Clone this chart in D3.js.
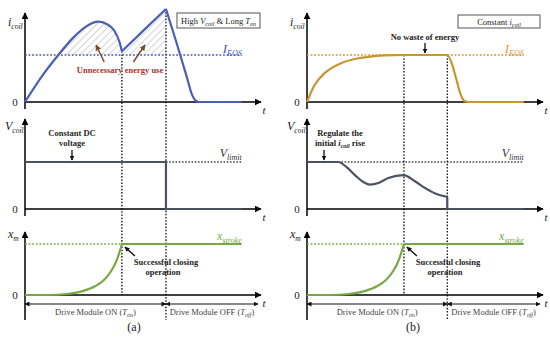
<!DOCTYPE html>
<html>
<head>
<meta charset="utf-8">
<script src="https://cdn.jsdelivr.net/npm/d3@7"></script>
<style>
body { margin: 0; background: #fff; }
svg { display: block; }
svg text { font-family: "Liberation Serif", "DejaVu Serif", serif; }
</style>
</head>
<body>
<div id="container"></div>
<script>
// time in % of panel width, values normalised to I_EOS / V_limit / x_stroke
const tClose = 41.6, tOff = 60.5, tEnd = 93;

// (a) high V_coil & long T_on
const iCoilA1 = [[0,0],[7,0.53],[14.3,1.0],[20.7,1.37],[26,1.6],[31.4,1.71],[35,1.66],[38.3,1.52],[40.6,1.27],[41.6,1.08]];
const iCoilA2 = [[41.6,1.08],[51,1.53],[60.5,1.98]];
const iCoilA3 = [[60.5,1.98],[65.1,1.25],[69.4,0.54],[71.5,0.18],[73.3,0.03],[75,0],[93,0]];
const vCoilA = [[0,1],[60.5,1],[60.5,0],[93,0]];
const xmA = [[0,0],[10,0],[17.9,0.02],[25,0.08],[30,0.17],[34,0.3],[37,0.47],[39.5,0.7],[41.6,1]];

// (b) constant i_coil
const iCoilB = [[0,0],[3,0.34],[7.7,0.62],[14.8,0.83],[20,0.91],[26.3,0.96],[33,0.99],[41.6,1],[60.2,1],[62,0.84],[64,0.5],[66,0.15],[67.6,0.02],[69,0],[93,0]];
const vCoilB = [[0,1],[13.4,1],[17,0.89],[20.6,0.72],[24,0.58],[27,0.52],[31,0.56],[34.9,0.66],[41.5,0.72],[46,0.6],[50.9,0.44],[55,0.33],[60.2,0.26]];
const vCoilBOff = [[60.2,0.26],[60.2,0],[93,0]];
const xmB = xmA;

const W = 550, H = 339;
const svg = d3.select("#container").append("svg").attr("width", W).attr("height", H)
	.attr("font-family", "'Liberation Serif', 'DejaVu Serif', serif");
const defs = svg.append("defs");

function marker(id, color, size) {
	defs.append("marker")
		.attr("id", id)
		.attr("viewBox", "0 0 10 10")
		.attr("refX", 9).attr("refY", 5)
		.attr("markerWidth", size).attr("markerHeight", size)
		.attr("markerUnits", "userSpaceOnUse")
		.attr("orient", "auto-start-reverse")
		.append("path").attr("d", "M0,0L10,5L0,10z").attr("fill", color);
}
marker("ax", "#000", 7);
marker("arr", "#111", 5);
marker("arrBrown", "#7b4b2a", 6);

defs.append("pattern")
	.attr("id", "hatch")
	.attr("patternUnits", "userSpaceOnUse")
	.attr("width", 5).attr("height", 5)
	.attr("patternTransform", "rotate(45)")
	.append("line").attr("x1", 0).attr("y1", 0).attr("x2", 0).attr("y2", 5)
	.attr("stroke", "#a3a3a3").attr("stroke-width", 0.9);

const yI = d3.scaleLinear().domain([0, 1]).range([102, 55]);
const yV = d3.scaleLinear().domain([0, 1]).range([209, 162]);
const yX = d3.scaleLinear().domain([0, 1]).range([295, 244]);
const yTop = { i: 13, v: 119, x: 232 };

function sub(g, x, y, main, subTxt, opts) {
	opts = opts || {};
	const t = g.append("text").attr("x", x).attr("y", y)
		.attr("font-style", "italic").attr("font-size", opts.size || 12)
		.attr("fill", opts.color || "#222")
		.attr("text-anchor", opts.anchor || "start");
	t.append("tspan").text(main);
	t.append("tspan").attr("dy", 3).attr("font-size", opts.subSize || 7.5).text(subTxt);
	return t;
}

function panel(x0, cfg) {
	const g = svg.append("g");
	const xs = d3.scaleLinear().domain([0, 100]).range([x0, x0 + 233]);
	const xAxisEnd = x0 + 236;
	const mono = d3.line().x(d => xs(d[0])).curve(d3.curveMonotoneX);
	const lin = d3.line().x(d => xs(d[0])).curve(d3.curveLinear);

	// hatch
	if (cfg.hatch) {
		g.append("clipPath").attr("id", "clipAbove")
			.append("rect").attr("x", x0).attr("y", 0).attr("width", 240).attr("height", yI(1));
		const area = d3.area().x(d => xs(d[0])).y0(yI(1)).y1(d => yI(d[1])).curve(d3.curveMonotoneX);
		cfg.hatch.forEach(seg => {
			g.append("path").attr("d", area(seg)).attr("fill", "url(#hatch)")
				.attr("clip-path", "url(#clipAbove)");
		});
	}

	// vertical marker lines
	g.append("line").attr("x1", xs(tClose)).attr("x2", xs(tClose))
		.attr("y1", cfg.closeTop).attr("y2", yX(0))
		.attr("stroke", "#111").attr("stroke-width", 1.3).attr("stroke-dasharray", "1.6,1.6");
	g.append("line").attr("x1", xs(cfg.tOff)).attr("x2", xs(cfg.tOff))
		.attr("y1", cfg.offTop).attr("y2", 320)
		.attr("stroke", "#111").attr("stroke-width", 1.3).attr("stroke-dasharray", "1.6,1.6");

	// axes
	[["i", yI], ["v", yV], ["x", yX]].forEach(([k, ys]) => {
		const bottom = k === "x" ? 320 : ys(0) + 7;
		g.append("line").attr("x1", x0).attr("x2", x0).attr("y1", bottom).attr("y2", yTop[k])
			.attr("stroke", "#000").attr("stroke-width", 1.5).attr("marker-end", "url(#ax)");
		g.append("line").attr("x1", x0).attr("x2", xAxisEnd).attr("y1", ys(0)).attr("y2", ys(0))
			.attr("stroke", "#000").attr("stroke-width", 1.5).attr("marker-end", "url(#ax)");
		g.append("text").attr("x", x0 - 10).attr("y", ys(0) + 4).attr("text-anchor", "middle")
			.attr("font-size", 11).attr("fill", "#222").text("0");
		g.append("text").attr("x", xAxisEnd + 3).attr("y", ys(0) + 12).attr("text-anchor", "middle")
			.attr("font-size", 11).attr("font-style", "italic").attr("fill", "#222").text("t");
	});

	// reference levels
	g.append("line").attr("x1", x0).attr("x2", xs(tEnd)).attr("y1", yI(1)).attr("y2", yI(1))
		.attr("stroke", cfg.eosColor).attr("stroke-width", 1.6).attr("stroke-dasharray", "1.8,1.8");
	g.append("line").attr("x1", xs(cfg.vDotStart)).attr("x2", xs(tEnd)).attr("y1", yV(1)).attr("y2", yV(1))
		.attr("stroke", "#444").attr("stroke-width", 1.3).attr("stroke-dasharray", "1.6,1.6");
	g.append("line").attr("x1", x0).attr("x2", xs(tClose)).attr("y1", yX(1)).attr("y2", yX(1))
		.attr("stroke", "#78a745").attr("stroke-width", 1.6).attr("stroke-dasharray", "1.8,1.8");

	// curves
	cfg.iMono.forEach(seg => g.append("path").attr("d", mono.y(d => yI(d[1]))(seg))
		.attr("fill", "none").attr("stroke", cfg.iColor).attr("stroke-width", 2.2));
	(cfg.iLin || []).forEach(seg => g.append("path").attr("d", lin.y(d => yI(d[1]))(seg))
		.attr("fill", "none").attr("stroke", cfg.iColor).attr("stroke-width", 2.2));
	(cfg.vMono || []).forEach(seg => g.append("path").attr("d", mono.y(d => yV(d[1]))(seg))
		.attr("fill", "none").attr("stroke", "#4b5263").attr("stroke-width", 2.2));
	cfg.vLin.forEach(seg => g.append("path").attr("d", lin.y(d => yV(d[1]))(seg))
		.attr("fill", "none").attr("stroke", "#4b5263").attr("stroke-width", 2.2));
	g.append("path").attr("d", mono.y(d => yX(d[1]))(cfg.xm))
		.attr("fill", "none").attr("stroke", "#78a745").attr("stroke-width", 2.2);
	g.append("path").attr("d", lin.y(d => yX(d[1]))([[tClose, 1], [tEnd, 1]]))
		.attr("fill", "none").attr("stroke", "#78a745").attr("stroke-width", 2.2);

	// axis titles
	sub(g, x0 - 17, 26, "i", "coil");
	sub(g, x0 - 20, 130, "V", "coil");
	sub(g, x0 - 17, 238, "x", "m");
	sub(g, xs(tEnd), 53, "I", "EOS", { color: cfg.eosLabel, anchor: "end", size: 13, subSize: 8 });
	sub(g, xs(tEnd), 157, "V", "limit", { color: "#333", anchor: "end", size: 12, subSize: 8 });
	sub(g, xs(tEnd), 240, "x", "stroke", { color: "#78a745", anchor: "end", size: 12, subSize: 8 });

	// successful closing
	g.append("line").attr("x1", xs(tClose) + 13).attr("y1", 256).attr("x2", xs(tClose) + 3).attr("y2", 247)
		.attr("stroke", "#111").attr("stroke-width", 1.4).attr("marker-end", "url(#arr)");
	g.append("text").attr("x", xs(tClose) + 44).attr("y", 265).attr("text-anchor", "middle")
		.attr("font-size", 8.5).attr("font-weight", "bold").attr("fill", "#222").text("Successful closing");
	g.append("text").attr("x", xs(tClose) + 41).attr("y", 275).attr("text-anchor", "middle")
		.attr("font-size", 8.5).attr("font-weight", "bold").attr("fill", "#222").text("operation");

	// drive module span
	const yb = 304;
	g.append("line").attr("x1", x0).attr("x2", xs(cfg.tOff)).attr("y1", yb).attr("y2", yb)
		.attr("stroke", "#111").attr("stroke-width", 1.2)
		.attr("marker-start", "url(#arr)").attr("marker-end", "url(#arr)");
	g.append("line").attr("x1", xs(cfg.tOff)).attr("x2", xs(100)).attr("y1", yb).attr("y2", yb)
		.attr("stroke", "#111").attr("stroke-width", 1.2)
		.attr("marker-start", "url(#arr)").attr("marker-end", "url(#arr)");
	const on = g.append("text").attr("x", (x0 + xs(cfg.tOff)) / 2).attr("y", 315)
		.attr("text-anchor", "middle").attr("font-size", 8.5).attr("fill", "#444");
	on.append("tspan").text("Drive Module ON (");
	on.append("tspan").attr("font-style", "italic").text("T");
	on.append("tspan").attr("font-style", "italic").attr("font-size", 6).attr("dy", 2).text("on");
	on.append("tspan").attr("dy", -2).text(")");
	const off = g.append("text").attr("x", (xs(cfg.tOff) + xs(100)) / 2).attr("y", 315)
		.attr("text-anchor", "middle").attr("font-size", 8.5).attr("fill", "#444");
	off.append("tspan").text("Drive Module OFF (");
	off.append("tspan").attr("font-style", "italic").text("T");
	off.append("tspan").attr("font-style", "italic").attr("font-size", 6).attr("dy", 2).text("off");
	off.append("tspan").attr("dy", -2).text(")");

	g.append("text").attr("x", cfg.captionX).attr("y", 331).attr("text-anchor", "middle")
		.attr("font-size", 12).attr("fill", "#222").text(cfg.caption);

	return { g, xs };
}

// panel (a)
const A = panel(25, {
	hatch: [iCoilA1, iCoilA2],
	iMono: [iCoilA1, iCoilA3], iLin: [iCoilA2],
	vLin: [vCoilA], xm: xmA,
	tOff: tOff, closeTop: yI(1.08), offTop: yI(1.98),
	vDotStart: tOff,
	iColor: "#4a5fb5", eosColor: "#3f57c0", eosLabel: "#3f57c0",
	caption: "(a)", captionX: 134
});
// panel (b)
const B = panel(307, {
	iMono: [iCoilB],
	vMono: [vCoilB], vLin: [vCoilBOff], xm: xmB,
	tOff: 60.2, closeTop: yI(1), offTop: yI(1),
	vDotStart: 13.4,
	iColor: "#c8962e", eosColor: "#c8962e", eosLabel: "#e09a2a",
	caption: "(b)", captionX: 413
});

// legend boxes
function box(x, y, w, h) {
	svg.append("rect").attr("x", x).attr("y", y).attr("width", w).attr("height", h)
		.attr("fill", "#fff").attr("stroke", "#555").attr("stroke-width", 1);
}
box(177, 13, 83, 15);
const ta = svg.append("text").attr("x", 218.5).attr("y", 24).attr("text-anchor", "middle")
	.attr("font-size", 8.5).attr("fill", "#222");
ta.append("tspan").text("High ");
ta.append("tspan").attr("font-style", "italic").text("V");
ta.append("tspan").attr("font-style", "italic").attr("font-size", 6).attr("dy", 2).text("coil");
ta.append("tspan").attr("dy", -2).text(" & Long ");
ta.append("tspan").attr("font-style", "italic").text("T");
ta.append("tspan").attr("font-style", "italic").attr("font-size", 6).attr("dy", 2).text("on");

box(458, 15, 82, 13);
const tb = svg.append("text").attr("x", 499).attr("y", 25).attr("text-anchor", "middle")
	.attr("font-size", 8.5).attr("fill", "#222");
tb.append("tspan").text("Constant ");
tb.append("tspan").attr("font-style", "italic").text("i");
tb.append("tspan").attr("font-style", "italic").attr("font-size", 6).attr("dy", 2).text("coil");

// annotations (a)
A.g.append("text").attr("x", 120).attr("y", 73).attr("text-anchor", "middle")
	.attr("font-size", 8.5).attr("font-weight", "bold").attr("fill", "#a8322d").text("Unnecessary energy use");
A.g.append("line").attr("x1", A.xs(34)).attr("y1", 62).attr("x2", A.xs(30.5)).attr("y2", 45)
	.attr("stroke", "#7b4b2a").attr("stroke-width", 1.5).attr("marker-end", "url(#arrBrown)");
A.g.append("line").attr("x1", A.xs(46.5)).attr("y1", 62).attr("x2", A.xs(51.5)).attr("y2", 45)
	.attr("stroke", "#7b4b2a").attr("stroke-width", 1.5).attr("marker-end", "url(#arrBrown)");
A.g.append("text").attr("x", 72).attr("y", 136).attr("text-anchor", "middle")
	.attr("font-size", 8.5).attr("font-weight", "bold").attr("fill", "#1f2a1f").text("Constant DC");
A.g.append("text").attr("x", 72).attr("y", 146).attr("text-anchor", "middle")
	.attr("font-size", 8.5).attr("font-weight", "bold").attr("fill", "#1f2a1f").text("voltage");
A.g.append("line").attr("x1", 72).attr("x2", 72).attr("y1", 150).attr("y2", 160)
	.attr("stroke", "#111").attr("stroke-width", 1.3).attr("marker-end", "url(#arr)");

// annotations (b)
B.g.append("text").attr("x", 425).attr("y", 40).attr("text-anchor", "middle")
	.attr("font-size", 8.5).attr("font-weight", "bold").attr("fill", "#222").text("No waste of energy");
B.g.append("line").attr("x1", 425).attr("x2", 425).attr("y1", 43).attr("y2", 53)
	.attr("stroke", "#111").attr("stroke-width", 1.3).attr("marker-end", "url(#arr)");
B.g.append("text").attr("x", 340).attr("y", 136).attr("text-anchor", "middle")
	.attr("font-size", 8.5).attr("font-weight", "bold").attr("fill", "#222").text("Regulate the");
const rg = B.g.append("text").attr("x", 340).attr("y", 146).attr("text-anchor", "middle")
	.attr("font-size", 8.5).attr("font-weight", "bold").attr("fill", "#222");
rg.append("tspan").text("initial ");
rg.append("tspan").attr("font-style", "italic").text("i");
rg.append("tspan").attr("font-style", "italic").attr("font-size", 6).attr("dy", 2).text("coil");
rg.append("tspan").attr("dy", -2).text(" rise");
B.g.append("line").attr("x1", 324).attr("x2", 324).attr("y1", 150).attr("y2", 160)
	.attr("stroke", "#111").attr("stroke-width", 1.3).attr("marker-end", "url(#arr)");
</script>
</body>
</html>
